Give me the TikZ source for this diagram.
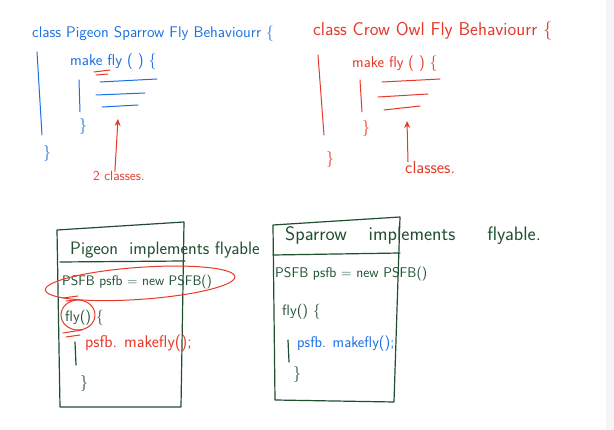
\documentclass[tikz,border=0pt]{standalone}
\usepackage{fontspec}
\usetikzlibrary{arrows.meta}

\definecolor{penblue}{HTML}{1B6FE4}
\definecolor{penred}{HTML}{E53A2B}
\definecolor{pengreen}{HTML}{1F4F30}
\definecolor{sidegray}{HTML}{F4F5F7}

\tikzset{
  hand/.style={inner sep=0pt, anchor=base west, font=\sffamily\fontsize{#1}{#1}\selectfont},
  hand/.default=14,
  bluepen/.style={draw=penblue, line width=1pt, line cap=round, line join=round},
  redpen/.style={draw=penred, line width=1pt, line cap=round, line join=round},
  greenpen/.style={draw=pengreen, line width=1.2pt, line cap=round, line join=round},
}

\begin{document}
\begin{tikzpicture}[x=1pt, y=-1pt]
  \fill[white] (0,0) rectangle (614,430);
  \fill[sidegray] (606,0) rectangle (614,430);
  \useasboundingbox (0,0) rectangle (614,430);

  % blue class, top left
  \node[hand=15.4, text=penblue] (title1) at (32,38) {class Pigeon Sparrow Fly Behaviourr \{};
  \node[hand=15.8, text=penblue] (make1) at (70,66) {make fly ( ) \{};
  \draw[redpen] (94,72) -- (110,70) (96,75) -- (108,74);
  \draw[bluepen] (100,82) -- (157,79) (96,95) -- (145,93) (102,107) -- (138,105);
  \draw[bluepen] (79,80) -- (80,112);
  \node[hand=16, text=penblue] (close1) at (79,131) {\}};
  \draw[bluepen] (37,52) -- (42,135);
  \node[hand=16, text=penblue] (end1) at (43,158) {\}};
  \node[hand=13.6, text=penred] (cls1) at (93,181) {2 classes.};
  \coordinate (tip1) at (118,119);
  \draw[redpen, -{Stealth[length=7pt, width=6pt]}] ([xshift=-4pt]cls1.north) -- (tip1);

  % red class, top right
  \node[hand=18.6, text=penred] (title2) at (313,36) {class Crow Owl Fly Behaviourr \{};
  \node[hand=15.6, text=penred] (make2) at (352,68) {make fly ( ) \{};
  \draw[redpen] (382,82) -- (440,79) (378,97) -- (428,94) (384,110) -- (420,106);
  \draw[redpen] (360,80) -- (362,112);
  \node[hand=16, text=penred] (close2) at (362,133) {\}};
  \draw[redpen] (318,55) -- (324,135);
  \node[hand=16, text=penred] (end2) at (326,164) {\}};
  \node[hand=17.5, text=penred] (cls2) at (405,174) {classes.};
  \coordinate (tip2) at (407,121);
  \draw[redpen, -{Stealth[length=7pt, width=6pt]}] ([xshift=3pt]cls2.north west) -- (tip2);

  % Pigeon box
  \draw[greenpen] (57,230) -- (184,222) -- (181,407) -- (60,407) -- cycle;
  \draw[greenpen] (60,262) -- (185,261);
  \node[hand=18, text=pengreen] (pigeon) at (70,255) {Pigeon \ implements flyable};
  \node[hand=13.8, text=pengreen] (psfb1) at (62,286) {PSFB psfb = new PSFB()};
  \draw[redpen, rotate=4] ([xshift=3pt, yshift=-1pt]psfb1.center) ellipse (95 and 16);
  \draw[redpen] (63,298) -- (78,296) (66,301) -- (76,300);
  \node[hand=15, text=pengreen] (fly1) at (65,322) {fly() \{};
  \draw[redpen] (78,315) ellipse (17 and 15);
  \draw[redpen] (63,333) -- (82,330) (66,337) -- (80,335);
  \draw[greenpen] (75,342) -- (76,365);
  \node[hand=17, text=penred] (call1) at (85,348) {psfb. makefly();};
  \node[hand=16, text=pengreen] (close3) at (80,388) {\}};

  % Sparrow box
  \draw[greenpen] (273,225) -- (400,217) -- (394,402) -- (275,400) -- cycle;
  \draw[greenpen] (273,255) -- (400,253);
  \node[hand=19.5, text=pengreen] (sparrow) at (285,241) {Sparrow\hspace{22pt}implements\hspace{32pt}flyable.};
  \node[hand=14, text=pengreen] (psfb2) at (275,278) {PSFB psfb = new PSFB()};
  \node[hand=15, text=pengreen] (fly2) at (282,316) {fly() \{};
  \draw[greenpen] (288,340) -- (289,362);
  \node[hand=15.5, text=penblue] (call2) at (297,348) {psfb. makefly();};
  \node[hand=16, text=pengreen] (close4) at (293,379) {\}};
\end{tikzpicture}
\end{document}
